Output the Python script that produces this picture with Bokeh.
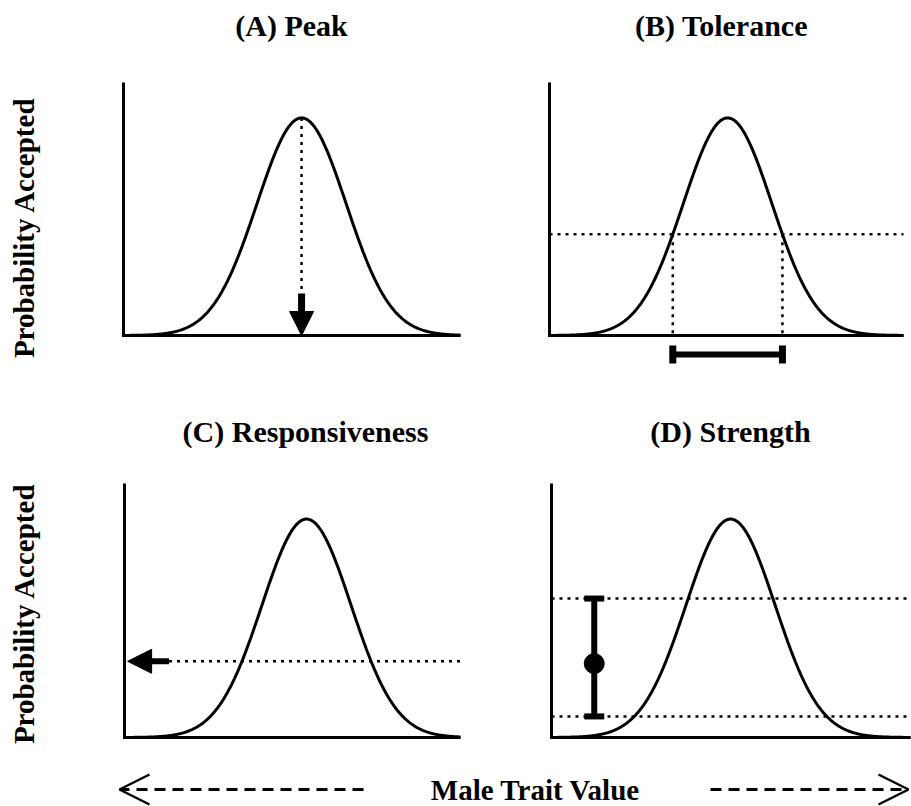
import numpy as np
from bokeh.plotting import figure
from bokeh.layouts import column, row
from bokeh.models import (Range1d, Label, Arrow, NormalHead, OpenHead, Whisker,
                          TeeHead, ColumnDataSource)
from bokeh.embed import file_html
from bokeh.resources import INLINE

# ---- panel content -------------------------------------------------------
TITLES = ["(A) Peak", "(B) Tolerance", "(C) Responsiveness", "(D) Strength"]
Y_LABEL = "Probability Accepted"
X_LABEL = "Male Trait Value"

# male trait axis extent of each panel, in SD units of the preference function
TRAIT_MIN = [-4.00, -4.02, -4.09, -4.02]
TRAIT_MAX = [3.57, 3.97, 3.46, 4.04]

# Gaussian preference function of each panel: peak location, width, height
PREF_PEAK = [0.0, 0.0, 0.0, 0.0]
PREF_SD = [1.0, 1.0, 1.0, 1.0]
PREF_HEIGHT = [0.86, 0.86, 0.86, 0.86]

PROB_MAX = 1.0

# (A) arrow from the peak down to the trait axis
PEAK_ARROW_TOP = 0.166
# (B) acceptance threshold defining tolerance, and level of the bar
TOLERANCE_LEVEL = 0.40
TOLERANCE_BAR_Y = -0.075
# (C) baseline acceptance level
RESPONSIVENESS_LEVEL = 0.30
RESP_ARROW_LEN = 1.0
# (D) range of acceptance between extremes
STRENGTH_X = -3.06
STRENGTH_LOW = 0.083
STRENGTH_HIGH = 0.547
STRENGTH_MID = 0.291

# ---- layout (pixels inside each cell) ------------------------------------
# cell size, the box spanned by the two axis lines (left, right, top, bottom)
# and the anchor of the panel title
CELLS = [
    dict(w=500, h=401, box=(123, 460, 82, 335), title=(291, 25)),
    dict(w=411, h=401, box=(49, 403, 82, 335), title=(221, 25)),
    dict(w=500, h=359, box=(124, 460, 82, 336), title=(305, 30)),
    dict(w=411, h=359, box=(51, 410, 82, 336), title=(230, 30)),
]
YLABEL_POS = {0: (23, 227), 2: (23, 212)}

FONT = "Liberation Serif"
DOT = "3 5"


def preference(i, n=500):
    x = np.linspace(TRAIT_MIN[i], TRAIT_MAX[i], n)
    y = PREF_HEIGHT[i] * np.exp(-0.5 * ((x - PREF_PEAK[i]) / PREF_SD[i]) ** 2)
    return x, y


def crossing(i, level):
    d = PREF_SD[i] * np.sqrt(2.0 * np.log(PREF_HEIGHT[i] / level))
    return PREF_PEAK[i] - d, PREF_PEAK[i] + d


class Panel:
    def __init__(self, i):
        c = CELLS[i]
        left, right, top, bottom = c["box"]
        self.i = i
        self.left, self.top = left, top
        self.bottom = bottom
        self.ux = (TRAIT_MAX[i] - TRAIT_MIN[i]) / (right - left)
        self.uy = PROB_MAX / (bottom - top)
        p = figure(width=c["w"], height=c["h"], title=None,
                   x_range=Range1d(TRAIT_MIN[i] - left * self.ux,
                                   TRAIT_MIN[i] + (c["w"] - left) * self.ux),
                   y_range=Range1d(-(c["h"] - bottom) * self.uy,
                                   PROB_MAX + top * self.uy),
                   x_axis_type=None, y_axis_type=None,
                   output_backend="svg", toolbar_location=None, min_border=0)
        p.grid.visible = False
        p.outline_line_color = None
        p.background_fill_color = "white"
        p.border_fill_color = "white"
        self.p = p

        # axis lines
        p.line([TRAIT_MAX[i], TRAIT_MIN[i], TRAIT_MIN[i]], [0, 0, PROB_MAX],
               line_width=3, line_color="black", line_join="miter")
        # preference function
        x, y = preference(i)
        p.line(x, y, line_width=3, line_color="black")
        # panel title
        tx, ty = c["title"]
        p.add_layout(Label(x=self.px(tx), y=self.py(ty), text=TITLES[i],
                           text_align="center", text_baseline="alphabetic",
                           text_font=FONT, text_font_size="30px",
                           text_font_style="bold", text_color="black"))
        if i in YLABEL_POS:
            lx, ly = YLABEL_POS[i]
            p.add_layout(Label(x=self.px(lx), y=self.py(ly), text=Y_LABEL,
                               angle=90, angle_units="deg",
                               text_align="center", text_baseline="middle",
                               text_font=FONT, text_font_size="29px",
                               text_font_style="bold", text_color="black"))

    def px(self, sx):
        return TRAIT_MIN[self.i] + (sx - self.left) * self.ux

    def py(self, sy):
        return (self.bottom - sy) * self.uy


# (A) Peak
A = Panel(0)
pA = A.p
pA.line([PREF_PEAK[0], PREF_PEAK[0]], [PREF_HEIGHT[0], PEAK_ARROW_TOP],
        line_width=2.5, line_dash=DOT, line_color="black")
pA.add_layout(Arrow(x_start=PREF_PEAK[0], y_start=PEAK_ARROW_TOP,
                    x_end=PREF_PEAK[0], y_end=0, line_width=7, line_color="black",
                    end=NormalHead(size=24, fill_color="black", line_color="black",
                                   line_width=1)))

# (B) Tolerance
B = Panel(1)
pB = B.p
lo, hi = crossing(1, TOLERANCE_LEVEL)
pB.line([TRAIT_MIN[1], TRAIT_MAX[1]], [TOLERANCE_LEVEL] * 2,
        line_width=2.5, line_dash=DOT, line_color="black")
pB.segment(x0=[lo, hi], y0=[TOLERANCE_LEVEL] * 2, x1=[lo, hi], y1=[0, 0],
           line_width=2.5, line_dash=DOT, line_color="black")
tol_src = ColumnDataSource(dict(base=[TOLERANCE_BAR_Y], lower=[lo], upper=[hi]))
pB.add_layout(Whisker(source=tol_src, base="base", lower="lower", upper="upper",
                      dimension="width", line_width=6, line_color="black",
                      lower_head=TeeHead(size=18, line_width=7, line_color="black"),
                      upper_head=TeeHead(size=18, line_width=7, line_color="black")))

# (C) Responsiveness
C = Panel(2)
pC = C.p
arrow_start = TRAIT_MIN[2] + RESP_ARROW_LEN
pC.line([arrow_start, TRAIT_MAX[2]], [RESPONSIVENESS_LEVEL] * 2,
        line_width=2.5, line_dash=DOT, line_color="black")
pC.add_layout(Arrow(x_start=arrow_start, y_start=RESPONSIVENESS_LEVEL,
                    x_end=TRAIT_MIN[2] + 0.07, y_end=RESPONSIVENESS_LEVEL,
                    line_width=6, line_color="black",
                    end=NormalHead(size=24, fill_color="black", line_color="black",
                                   line_width=1)))

# (D) Strength
D = Panel(3)
pD = D.p
for lev in (STRENGTH_LOW, STRENGTH_HIGH):
    pD.line([TRAIT_MIN[3], TRAIT_MAX[3]], [lev, lev],
            line_width=2.5, line_dash=DOT, line_color="black")
str_src = ColumnDataSource(dict(base=[STRENGTH_X], lower=[STRENGTH_LOW],
                                upper=[STRENGTH_HIGH]))
pD.add_layout(Whisker(source=str_src, base="base", lower="lower", upper="upper",
                      dimension="height", line_width=6, line_color="black",
                      lower_head=TeeHead(size=20, line_width=6, line_color="black"),
                      upper_head=TeeHead(size=20, line_width=6, line_color="black")))
pD.scatter([STRENGTH_X], [STRENGTH_MID], size=20, color="black")

# shared trait axis label with direction arrows (strip coordinates in pixels)
strip = figure(width=911, height=46, title=None,
               x_range=Range1d(0, 911), y_range=Range1d(0, 46),
               x_axis_type=None, y_axis_type=None, output_backend="svg",
               toolbar_location=None, min_border=0)
strip.grid.visible = False
strip.outline_line_color = None
strip.add_layout(Label(x=535, y=17, text=X_LABEL, text_align="center",
                       text_baseline="alphabetic", text_font=FONT,
                       text_font_size="29px", text_font_style="bold",
                       text_color="black"))
for xs, xe in ((363, 119), (710, 908)):
    strip.add_layout(Arrow(x_start=xs, y_start=17, x_end=xe, y_end=17,
                           line_width=3, line_dash="11 7", line_color="black",
                           end=OpenHead(size=30, line_width=2.5, line_color="black")))

layout = column(row(pA, pB), row(pC, pD), strip)

with open("out.html", "w") as f:
    f.write(file_html(layout, INLINE))
